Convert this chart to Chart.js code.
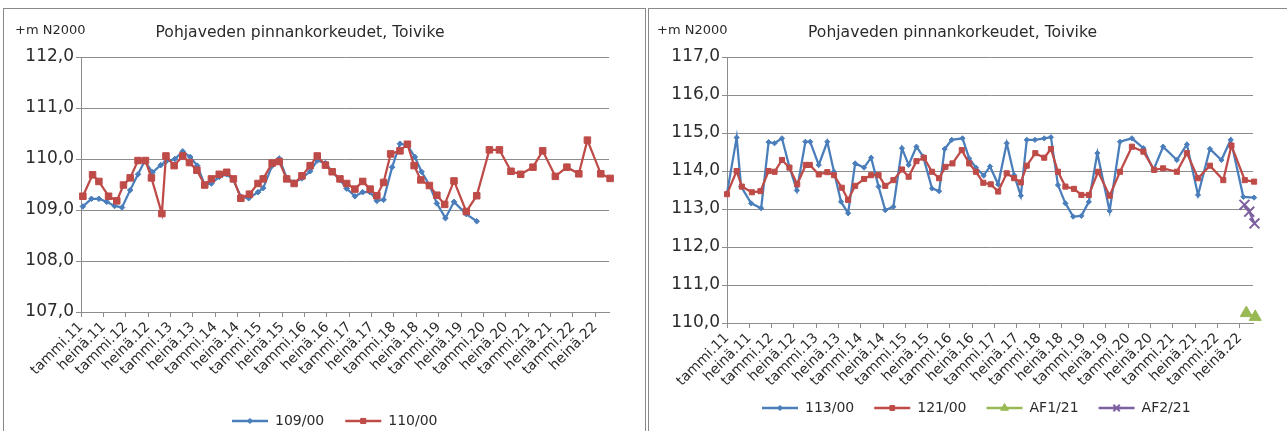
<!DOCTYPE html>
<html>
<head>
<meta charset="utf-8">
<title>Pohjaveden pinnankorkeudet, Toivike</title>
<script src="https://cdn.jsdelivr.net/npm/chart.js@4/dist/chart.umd.min.js"></script>
<style>
  html, body { margin: 0; padding: 0; background: #fff; overflow: hidden; }
  body { position: relative; width: 1287px; height: 431px; }
  .panel { position: absolute; border: 1px solid #8a8a8a; box-sizing: border-box; }
  #panelA { left: 3px; top: 8px; width: 643px; height: 440px; }
  #panelB { left: 648px; top: 8px; width: 660px; height: 440px; }
  canvas { position: absolute; top: 0; }
  #chartA { left: 0; }
  #chartB { left: 648px; }
</style>
</head>
<body>
<div class="panel" id="panelA"></div>
<div class="panel" id="panelB"></div>
<canvas id="chartA" width="645" height="460"></canvas>
<canvas id="chartB" width="639" height="460"></canvas>
<script>
// Axis labels every six months, Jan 2011 = month 0
const tickLabels = ['tammi.11','heinä.11','tammi.12','heinä.12','tammi.13','heinä.13',
  'tammi.14','heinä.14','tammi.15','heinä.15','tammi.16','heinä.16','tammi.17','heinä.17',
  'tammi.18','heinä.18','tammi.19','heinä.19','tammi.20','heinä.20','tammi.21','heinä.21',
  'tammi.22','heinä.22'];

// Well 109/00 (months since Jan 2011, level m N2000)
const months109 = [0.5, 2.8, 4.8, 6.9, 9.0, 11.0, 13.2, 15.3, 17.1, 19.2, 21.4, 22.8, 25.2, 27.3,
  29.3, 31.2, 33.2, 35.0, 37.1, 39.1, 40.9, 42.9, 45.0, 47.5, 48.9, 51.3, 53.2, 55.2, 57.2, 59.3,
  61.5, 63.4, 65.6, 67.4, 69.5, 71.3, 73.5, 75.6, 77.6, 79.4, 81.2, 83.5, 85.6, 87.6, 89.6, 91.4,
  93.5, 95.5, 97.8, 100.1, 103.4, 106.2];
const level109 = [109.07, 109.22, 109.22, 109.16, 109.08, 109.05, 109.39, 109.70, 109.96, 109.74,
  109.88, 109.95, 110.00, 110.15, 110.04, 109.87, 109.49, 109.52, 109.65, 109.70, 109.59, 109.26,
  109.23, 109.35, 109.43, 109.87, 110.01, 109.63, 109.54, 109.62, 109.76, 109.97, 109.92, 109.75,
  109.59, 109.42, 109.27, 109.35, 109.35, 109.18, 109.20, 109.84, 110.30, 110.27, 110.04, 109.75,
  109.49, 109.13, 108.84, 109.16, 108.92, 108.78];

// Well 110/00
const months110 = [0.5, 3.1, 4.8, 7.4, 9.6, 11.4, 13.2, 15.3, 17.3, 18.9, 21.7, 22.8, 25.0, 27.3,
  29.1, 31.1, 33.2, 35.0, 37.1, 39.1, 40.9, 42.9, 45.2, 47.5, 48.9, 51.3, 53.2, 55.2, 57.2, 59.3,
  61.5, 63.4, 65.6, 67.4, 69.5, 71.3, 73.5, 75.6, 77.6, 79.4, 81.2, 83.1, 85.6, 87.6, 89.4, 91.2,
  93.5, 95.5, 97.6, 100.1, 103.4, 106.2, 109.6, 112.3, 115.4, 118.0, 121.3, 123.9, 127.3, 130.4,
  133.6, 135.9, 139.5, 142.0];
const level110 = [109.27, 109.69, 109.56, 109.27, 109.18, 109.49, 109.63, 109.97, 109.97, 109.63,
  108.93, 110.06, 109.87, 110.06, 109.93, 109.78, 109.49, 109.61, 109.70, 109.74, 109.61, 109.23,
  109.31, 109.52, 109.61, 109.92, 109.95, 109.61, 109.52, 109.67, 109.87, 110.06, 109.88, 109.75,
  109.61, 109.52, 109.41, 109.56, 109.41, 109.28, 109.54, 110.10, 110.16, 110.29, 109.87, 109.59,
  109.48, 109.29, 109.11, 109.57, 108.97, 109.28, 110.18, 110.18, 109.76, 109.70, 109.84, 110.16,
  109.66, 109.84, 109.71, 110.37, 109.71, 109.62];

// Well 113/00
const months113 = [0.0, 2.6, 3.8, 6.5, 9.2, 11.2, 12.8, 14.8, 16.8, 18.8, 21.1, 22.4, 24.7, 27.0,
  28.8, 30.7, 32.6, 34.5, 36.9, 38.8, 40.8, 42.6, 44.8, 47.1, 48.9, 51.0, 52.8, 55.2, 57.1, 58.6,
  60.5, 63.4, 65.2, 67.0, 69.1, 70.8, 73.0, 75.3, 77.3, 79.1, 80.7, 82.9, 85.4, 87.2, 89.1, 91.1,
  93.2, 95.4, 97.4, 99.7, 103.0, 105.8, 109.0, 112.1, 114.8, 117.4, 121.1, 123.8, 126.8, 130.0,
  133.1, 135.6, 139.0, 141.9];
const level113 = [113.41, 114.88, 113.59, 113.15, 113.02, 114.76, 114.73, 114.86, 114.11, 113.49,
  114.77, 114.77, 114.16, 114.77, 113.98, 113.19, 112.89, 114.20, 114.09, 114.35, 113.59, 112.97,
  113.06, 114.60, 114.16, 114.64, 114.38, 113.54, 113.47, 114.58, 114.82, 114.86, 114.33, 114.09,
  113.88, 114.12, 113.65, 114.73, 113.89, 113.35, 114.82, 114.82, 114.86, 114.89, 113.63, 113.15,
  112.80, 112.82, 113.19, 114.47, 112.95, 114.77, 114.86, 114.60, 114.03, 114.64, 114.29, 114.70,
  113.37, 114.58, 114.29, 114.82, 113.32, 113.30];

// Well 121/00
const months121 = [0.0, 2.6, 4.0, 6.7, 9.0, 11.2, 12.8, 14.8, 16.8, 18.9, 21.2, 22.3, 24.7, 27.0,
  28.8, 30.9, 32.6, 34.5, 36.9, 38.8, 40.8, 42.6, 44.8, 47.1, 48.9, 51.0, 53.0, 55.2, 57.1, 58.8,
  60.7, 63.2, 65.2, 67.0, 69.0, 71.0, 73.0, 75.3, 77.3, 79.1, 80.7, 83.0, 85.4, 87.2, 89.1, 91.1,
  93.4, 95.4, 97.4, 99.9, 103.0, 105.8, 109.0, 112.1, 115.0, 117.4, 121.1, 123.8, 126.8, 130.0,
  133.6, 135.8, 139.4, 141.9];
const level121 = [113.39, 114.00, 113.59, 113.44, 113.47, 114.00, 113.98, 114.29, 114.09, 113.65,
  114.16, 114.16, 113.91, 113.97, 113.89, 113.56, 113.24, 113.61, 113.79, 113.89, 113.89, 113.61,
  113.76, 114.04, 113.85, 114.26, 114.35, 113.98, 113.81, 114.11, 114.20, 114.55, 114.20, 113.98,
  113.69, 113.65, 113.46, 113.94, 113.81, 113.70, 114.14, 114.47, 114.35, 114.58, 113.98, 113.59,
  113.53, 113.37, 113.37, 113.98, 113.35, 113.98, 114.64, 114.51, 114.03, 114.07, 113.98, 114.47,
  113.81, 114.14, 113.76, 114.67, 113.76, 113.72];

// New wells AF1/21 and AF2/21
const monthsAF1 = [139.8, 142.2];
const levelAF1 = [110.26, 110.16];
const monthsAF2 = [139.3, 140.6, 142.0];
const levelAF2 = [113.11, 112.93, 112.62];

const BLUE = '#4a7ebb', RED = '#be4b48', GREEN = '#98b954', PURPLE = '#7d60a0';
const FONT = "'DejaVu Sans', 'Liberation Sans', sans-serif";
const TEXT = '#2b2b2b';
const GRID = '#8c8c8c';
const TITLE = 'Pohjaveden pinnankorkeudet, Toivike';
const UNIT = '+m N2000';

function points(months, values) {
  return months.map((m, i) => ({ x: m, y: values[i] }));
}

function line(label, months, values, color, style, radius, legendRadius, order, extra) {
  return Object.assign({
    label,
    data: points(months, values),
    borderColor: color,
    backgroundColor: color,
    borderWidth: 2.25,
    pointStyle: style,
    pointRadius: radius,
    pointBorderWidth: 1,
    pointBorderColor: color,
    pointBackgroundColor: color,
    legendPointRadius: legendRadius,
    tension: 0,
    clip: false,
    order
  }, extra || {});
}

// Places the title and legend, writes the unit label and puts markers on legend lines
const decorations = {
  id: 'decorations',
  afterLayout(chart, args, o) {
    const t = chart.titleBlock;
    if (t && o.titleCenter != null) {
      const dx = o.titleCenter - (t.left + t.right) / 2;
      t.left += dx; t.right += dx;
    }
    const lg = chart.legend;
    if (lg && lg.lineWidths) {
      const pad = lg.options.labels.padding;
      const size = lg.options.labels.font.size;
      const cur = ((lg.left + pad) + (lg.right - lg.lineWidths[0])) / 2;
      const dx = o.legendStart - cur;
      lg.left += dx; lg.right += dx;
      const dy = o.legendCenterY - (lg.top + pad + size / 2);
      lg.top += dy; lg.bottom += dy;
    }
  },
  afterDraw(chart, args, o) {
    const ctx = chart.ctx;
    ctx.save();
    ctx.font = '13px ' + FONT;
    ctx.fillStyle = TEXT;
    ctx.textAlign = 'left';
    ctx.textBaseline = 'middle';
    ctx.fillText(UNIT, o.unitX, o.unitY);
    const lg = chart.legend;
    const bw = lg.options.labels.boxWidth;
    lg.legendItems.forEach((item, i) => {
      const hb = lg.legendHitBoxes[i];
      const ds = chart.data.datasets[item.datasetIndex];
      ctx.fillStyle = ds.pointBackgroundColor;
      ctx.strokeStyle = ds.pointBorderColor;
      ctx.lineWidth = ds.pointBorderWidth;
      Chart.helpers.drawPoint(ctx, {
        pointStyle: ds.pointStyle,
        radius: ds.legendPointRadius,
        borderWidth: ds.pointBorderWidth,
        rotation: 0
      }, hb.left + bw / 2, hb.top + hb.height / 2);
    });
    ctx.restore();
  }
};

function buildChart(id, c) {
  return new Chart(document.getElementById(id), {
    type: 'line',
    data: { datasets: c.datasets },
    options: {
      responsive: false,
      animation: false,
      events: [],
      layout: { padding: { left: 0, right: c.padRight, top: 0, bottom: 0 } },
      scales: {
        x: {
          type: 'linear',
          bounds: 'data',
          min: 0,
          max: c.xMax,
          ticks: {
            stepSize: 6,
            includeBounds: false,
            autoSkip: false,
            minRotation: 45,
            maxRotation: 45,
            padding: 2,
            color: TEXT,
            font: { family: FONT, size: 14 },
            callback: v => tickLabels[Math.round(v / 6)]
          },
          grid: { drawOnChartArea: false, drawTicks: true, tickLength: 5, color: GRID, lineWidth: 1 },
          border: { display: true, color: GRID, width: 1 },
          afterFit: s => { s.height = c.xHeight; }
        },
        y: {
          min: c.yMin,
          max: c.yMax,
          ticks: {
            stepSize: 1,
            padding: 2,
            color: TEXT,
            font: { family: FONT, size: 17 },
            callback: v => v.toFixed(1).replace('.', ',')
          },
          grid: { color: GRID, lineWidth: 1, drawTicks: true, tickLength: 5 },
          border: { display: true, color: GRID, width: 1 },
          afterFit: s => { s.width = c.yWidth; }
        }
      },
      plugins: {
        tooltip: { enabled: false },
        title: {
          display: true,
          text: TITLE,
          color: TEXT,
          font: { family: FONT, size: 15.6, weight: 'normal', lineHeight: 1.2 },
          padding: { top: 24, bottom: 14.3 }
        },
        legend: {
          position: 'bottom',
          labels: {
            boxWidth: 36,
            boxHeight: 2.5,
            padding: c.legendPad,
            color: TEXT,
            font: { family: FONT, size: 14 },
            sort: (a, b) => a.datasetIndex - b.datasetIndex,
            generateLabels: chart => {
              const items = Chart.defaults.plugins.legend.labels.generateLabels(chart);
              items.forEach(it => { it.lineWidth = 0; it.fillStyle = it.strokeStyle; });
              return items;
            }
          }
        },
        decorations: {
          titleCenter: c.titleCenter,
          legendStart: c.legendStart,
          legendCenterY: c.legendCenterY,
          unitX: c.unitX,
          unitY: c.unitY
        }
      }
    },
    plugins: [decorations]
  });
}

// Both canvases are 460 px tall; the legend box (about 45 px) sits at the bottom
// and the x-axis band fills the space between the plot and the legend.
buildChart('chartA', {
  datasets: [
    line('109/00', months109, level109, BLUE, 'rectRot', 2.8, 2.6, 1),
    line('110/00', months110, level110, RED, 'rect', 4.6, 3.6, 0)
  ],
  yMin: 107, yMax: 112, xMax: 141.7,
  yWidth: 81, xHeight: 103, padRight: 36,
  titleCenter: 300, legendStart: 232, legendCenterY: 421, legendPad: 21,
  unitX: 15, unitY: 30.5
});

buildChart('chartB', {
  datasets: [
    line('113/00', months113, level113, BLUE, 'rectRot', 2.6, 2.6, 3),
    line('121/00', months121, level121, RED, 'rect', 3.6, 3.4, 2),
    line('AF1/21', monthsAF1, levelAF1, GREEN, 'triangle', 7, 4.5, 1),
    line('AF2/21', monthsAF2, levelAF2, PURPLE, 'crossRot', 7, 4.5, 0, { pointBorderWidth: 2 })
  ],
  yMin: 110, yMax: 117, xMax: 141.6,
  yWidth: 79, xHeight: 93, padRight: 34,
  titleCenter: 304.5, legendStart: 114, legendCenterY: 408, legendPad: 20,
  unitX: 9, unitY: 31
});
</script>
</body>
</html>
